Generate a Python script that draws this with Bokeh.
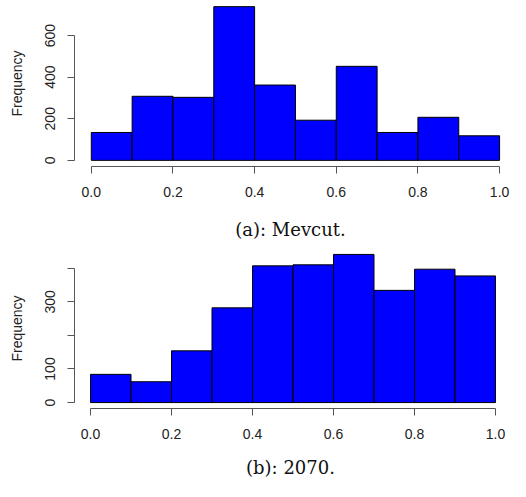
from bokeh.plotting import figure
from bokeh.layouts import column
from bokeh.models import Range1d, FixedTicker, Title
from bokeh.embed import file_html
from bokeh.resources import INLINE

# ---- data ----
bin_edges = [0.0, 0.1, 0.2, 0.3, 0.4, 0.5, 0.6, 0.7, 0.8, 0.9, 1.0]
counts_a = [134, 308, 303, 739, 362, 193, 452, 134, 207, 118]
counts_b = [84, 62, 154, 282, 407, 410, 441, 334, 397, 377]
x_ticks = [0.0, 0.2, 0.4, 0.6, 0.8, 1.0]
x_tick_labels = ["0.0", "0.2", "0.4", "0.6", "0.8", "1.0"]
y_ticks_a = [0, 200, 400, 600]
y_tick_labels_a = ["0", "200", "400", "600"]
y_ticks_b = [0, 100, 200, 300, 400]
y_tick_labels_b = ["0", "100", "", "300", ""]
y_label = "Frequency"
caption_a = "(a): Mevcut."
caption_b = "(b): 2070."

AXIS_COLOR = "#555555"
LABEL_COLOR = "#222222"
TICK_FONT = "Liberation Sans"
CAP_FONT = "DejaVu Serif"
CAP_SIZE = "18px"
WIDTH = 510


def panel(counts, yticks, ylabels, height, b_top, b_bottom, zero_px, one_px):
    b_right = 4
    scale = one_px - zero_px
    b_left = int(round(zero_px - 0.04 * scale))
    x_start = -(zero_px - b_left) / scale
    x_end = (WIDTH - b_right - zero_px) / scale
    ymax = max(counts)
    p = figure(width=WIDTH, height=height, output_backend="svg", toolbar_location=None,
               x_range=Range1d(x_start, x_end),
               y_range=Range1d(-0.04 * ymax, 1.04 * ymax),
               min_border_left=b_left, min_border_right=b_right,
               min_border_top=b_top, min_border_bottom=b_bottom)
    p.outline_line_color = None
    p.xgrid.visible = False
    p.ygrid.visible = False
    p.background_fill_color = "white"
    p.border_fill_color = "white"

    p.quad(left=bin_edges[:-1], right=bin_edges[1:], bottom=0, top=counts,
           fill_color="#0000FF", line_color="black", line_width=1)

    xa = p.xaxis[0]
    xa.ticker = FixedTicker(ticks=x_ticks)
    xa.major_label_overrides = {t: l for t, l in zip(x_ticks, x_tick_labels)}
    xa.bounds = (x_ticks[0], x_ticks[-1])
    xa.minor_tick_line_color = None
    xa.major_tick_in = 0
    xa.major_tick_out = 7
    xa.major_label_standoff = 13
    xa.axis_line_color = AXIS_COLOR
    xa.major_tick_line_color = AXIS_COLOR
    xa.major_label_text_color = LABEL_COLOR
    xa.major_label_text_font = TICK_FONT
    xa.major_label_text_font_size = "14px"

    ya = p.yaxis[0]
    ya.ticker = FixedTicker(ticks=yticks)
    ya.major_label_overrides = {t: l for t, l in zip(yticks, ylabels)}
    ya.bounds = (yticks[0], yticks[-1])
    ya.minor_tick_line_color = None
    ya.major_tick_in = 0
    ya.major_tick_out = 7
    ya.major_label_standoff = 12
    ya.major_label_orientation = "vertical"
    ya.axis_line_color = AXIS_COLOR
    ya.major_tick_line_color = AXIS_COLOR
    ya.major_label_text_color = LABEL_COLOR
    ya.major_label_text_font = TICK_FONT
    ya.major_label_text_font_size = "14px"
    ya.axis_label = y_label
    ya.axis_label_text_font = TICK_FONT
    ya.axis_label_text_font_style = "normal"
    ya.axis_label_text_font_size = "14px"
    ya.axis_label_text_color = LABEL_COLOR
    ya.axis_label_standoff = 18
    return p


p1 = panel(counts_a, y_ticks_a, y_tick_labels_a,
           height=206, b_top=0, b_bottom=40, zero_px=86, one_px=499)
p2 = panel(counts_b, y_ticks_b, y_tick_labels_b,
           height=275, b_top=42, b_bottom=73, zero_px=90, one_px=495)

# caption of panel (a): sits between the two histograms
p2.add_layout(Title(text=caption_a, align="center", text_font=CAP_FONT,
                    text_font_style="normal", text_font_size=CAP_SIZE,
                    text_color="#111111", standoff=18), "above")
# caption of panel (b): under the second histogram
xb = p2.xaxis[0]
xb.axis_label = caption_b
xb.axis_label_text_font = CAP_FONT
xb.axis_label_text_font_style = "normal"
xb.axis_label_text_font_size = CAP_SIZE
xb.axis_label_text_color = "#111111"
xb.axis_label_standoff = 15

layout = column(p1, p2, spacing=0)
open("out.html", "w").write(file_html(layout, INLINE))
